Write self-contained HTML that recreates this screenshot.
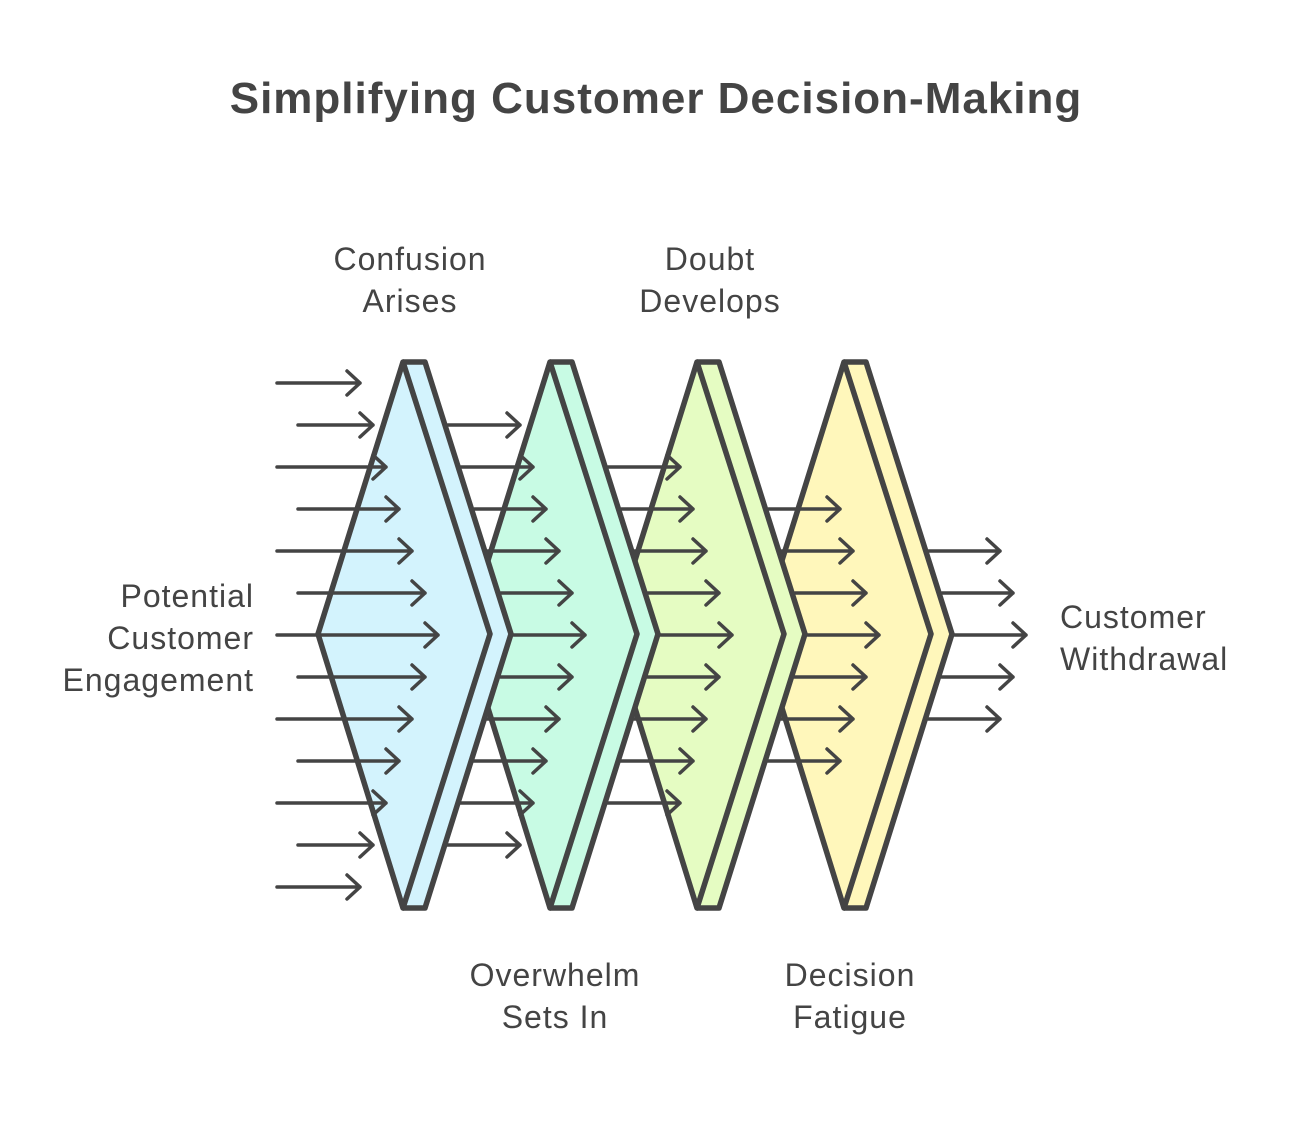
<!DOCTYPE html>
<html><head><meta charset="utf-8"><style>
html,body{margin:0;padding:0;background:#fff;}
body{width:1292px;height:1123px;position:relative;overflow:hidden;font-family:"Liberation Sans",sans-serif;color:#444;}
.t{position:absolute;text-align:center;font-size:32px;line-height:42px;letter-spacing:1px;}
</style></head><body>
<svg id="s" width="1292" height="1123" style="position:absolute;left:0;top:0"></svg>
<div class="t" style="left:0;width:1312px;top:78px;font-size:44px;font-weight:bold;letter-spacing:1px">Simplifying Customer Decision-Making</div>
<div class="t" style="left:280px;width:260px;top:238px">Confusion<br>Arises</div>
<div class="t" style="left:580px;width:260px;top:238px">Doubt<br>Develops</div>
<div class="t" style="left:425px;width:260px;top:954px">Overwhelm<br>Sets In</div>
<div class="t" style="left:720px;width:260px;top:954px">Decision<br>Fatigue</div>
<div class="t" style="left:0px;width:254px;top:575px;text-align:right">Potential<br>Customer<br>Engagement</div>
<div class="t" style="left:1060px;width:230px;top:596px;text-align:left">Customer<br>Withdrawal</div>
<script>
var s=document.getElementById('s'),h='';
var tops=[403,550,697,844],cols=['#d3f3fd','#c8fbe4','#e5fcc2','#fff7bb'];
var T=362,M=634,B=908;
function arrow(x1,x2,y){return '<path d="M'+x1+' '+y+' L'+x2+' '+y+' M'+(x2-13)+' '+(y-12)+' L'+x2+' '+y+' L'+(x2-13)+' '+(y+12)+'" fill="none" stroke="#444" stroke-width="3.5" stroke-linecap="round" stroke-linejoin="round"/>';}
function backx(t,y){var d=Math.abs(y-M);return t+108-(86*d/272);}
for(var i=3;i>=0;i--){var t=tops[i];
 h+='<polygon points="'+t+','+T+' '+(t+22)+','+T+' '+(t+108)+','+M+' '+(t+22)+','+B+' '+t+','+B+'" fill="'+cols[i]+'"/>';
 h+='<path d="M'+t+' '+T+' L'+(t+22)+' '+T+' L'+(t+108)+' '+M+' L'+(t+22)+' '+B+' L'+t+' '+B+'" fill="none" stroke="#444" stroke-width="5.5" stroke-linejoin="round"/>';
 h+='<polygon points="'+(t-85)+','+M+' '+t+','+T+' '+(t+87)+','+M+' '+t+','+B+'" fill="'+cols[i]+'" stroke="#444" stroke-width="5.5" stroke-linejoin="round"/>';
}
for(var r=0;r<13;r++){var y=383+42*r,d=Math.abs(r-6);
 h+=arrow(r%2==0?277:298,438-13*d,y);
 for(var k=1;k<=4;k++){ if(d<=6-k){ var x1=backx(tops[k-1],y)+3; h+=arrow(x1,438+147*k-13*d,y);} }
}
s.innerHTML=h;
</script>
</body></html>
